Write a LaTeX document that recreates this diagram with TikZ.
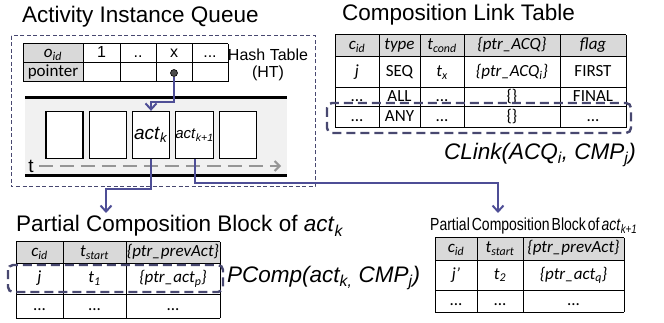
\documentclass[tikz,border=0pt]{standalone}
\usepackage{fontspec}
\usepackage{graphicx}
\setmainfont{Liberation Sans}
\newfontfamily\tabfont{Carlito}
\usetikzlibrary{arrows.meta,calc}
\definecolor{ptrcol}{RGB}{78,78,150}
\definecolor{dashcol}{RGB}{72,72,112}
\definecolor{hdrgray}{RGB}{217,217,217}
\definecolor{bandgray}{RGB}{241,241,241}
\definecolor{tgray}{RGB}{150,150,150}
\newcommand{\sbs}[1]{\textsubscript{#1}}
\begin{document}
\begin{tikzpicture}[x=1pt,y=-1pt,
  title/.style={font=\fontsize{22.5}{26}\selectfont, inner sep=0pt, anchor=west},
  cell/.style={font=\tabfont\fontsize{17}{20}\selectfont, inner sep=0pt, text height=11pt, text depth=3pt},
  hcell/.style={cell, font=\tabfont\itshape\fontsize{17}{20}\selectfont},
  gridline/.style={line width=1pt, draw=black},
  qbox/.style={draw=black, line width=1.3pt, fill=white, minimum width=37pt, minimum height=47pt, inner sep=0pt},
  ptr/.style={draw=ptrcol, line width=2pt, -{Straight Barb[length=6pt,width=11pt,line width=2pt]}},
  hl/.style={draw=dashcol, line width=2.4pt, dash pattern=on 9pt off 5pt, rounded corners=5pt},
  outer/.style={draw=dashcol, line width=1pt, dash pattern=on 4pt off 2.5pt},
  tarrow/.style={draw=tgray, line width=2.5pt, dash pattern=on 14pt off 7pt, -{Straight Barb[length=5pt,width=10pt,line width=2pt]}}
]
\useasboundingbox (0,0) rectangle (664,323);

% ---------- titles ----------
\node[title] (tAIQ) at (22,17) {Activity Instance Queue};
\node[title] (tCLT) at (342,15) {Composition Link Table};
\node[title] (tPCBa) at (16,226) {Partial Composition Block of \textit{act}\sbs{\textit{k}}};
\node[title, font=\fontsize{17.5}{20}\selectfont] (tPCBb) at (430,226) {\scalebox{0.8}[1]{\spaceskip=2.5pt Partial Composition Block of \textit{act}\sbs{\textit{k+1}}}};

% ---------- activity instance queue ----------
\draw[outer] (11,36) rectangle (315,187);

% hash table
\fill[hdrgray] (23,44) rectangle (83,82);
\foreach \y in {44,63,82} \draw[gridline] (23,\y) -- (228,\y);
\foreach \x in {23,83,120,156,192,228} \draw[gridline] (\x,44) -- (\x,82);
\node[hcell] (h00) at (53,53.5) {o\sbs{id}};
\node[cell, font=\fontsize{16}{18}\selectfont] (h01) at (101.5,53.5) {1};
\node[cell, font=\fontsize{16}{18}\selectfont] (h02) at (138,53.5) {..};
\node[cell, font=\fontsize{16}{18}\selectfont] (h03) at (174,53.5) {x};
\node[cell, font=\fontsize{16}{18}\selectfont] (h04) at (210,53.5) {...};
\node[cell] (h10) at (53,72.5) {pointer};
\node[font=\fontsize{16}{19}\selectfont, inner sep=0pt] (htl) at (268,55) {Hash Table};
\node[font=\fontsize{16}{19}\selectfont, inner sep=0pt] (htl2) at (268,73) {(HT)};

% queue band
\fill[bandgray] (25,98) rectangle (287,176);
\draw[line width=3pt] (25,98) -- (287,98);
\draw[line width=3pt] (25,176) -- (287,176);
\node[qbox] (b1) at (64.5,135) {};
\node[qbox] (b2) at (108,135) {};
\node[qbox] (b3) at (151,135) {\fontsize{19}{22}\selectfont\textit{act}\sbs{\textit{k}}};
\node[qbox] (b4) at (194.5,135) {\fontsize{15}{18}\selectfont\textit{act}\sbs{\textit{k+1}}};
\node[qbox] (b5) at (238,135) {};
\node[font=\fontsize{19}{22}\selectfont, inner sep=0pt] (tlab) at (31,166) {t};
\coordinate (tend) at (281,166);
\draw[tarrow] ($(tlab.east)+(5,0)$) -- (tend);

% pointer from hash table
\node[circle, fill=black!70, draw=black, line width=0.6pt, minimum size=7pt, inner sep=0pt] (dot) at (174,73) {};
\coordinate (bendA) at (174,102);
\draw[ptr] (dot) -- (bendA) -| (b3.north);

% connectors to partial composition blocks
\coordinate (bendB) at (106,189);
\coordinate (pcbA) at (106,213);
\draw[ptr] (b3.south) |- (bendB) -- (pcbA);
\coordinate (bendC) at (498,183);
\coordinate (pcbB) at (498,213);
\draw[ptr] (b4.south) |- (bendC) -- (pcbB);

% ---------- composition link table ----------
\fill[hdrgray] (335,35) rectangle (626,57);
\foreach \y in {35,57,88,107,128} \draw[gridline] (335,\y) -- (626,\y);
\foreach \x in {335,379,420,464,560,626} \draw[gridline] (\x,35) -- (\x,128);
\node[hcell] (c00) at (357,46) {c\sbs{id}};
\node[hcell] (c01) at (399.5,46) {type};
\node[hcell] (c02) at (442,46) {t\sbs{cond}};
\node[hcell] (c03) at (512,46) {\{ptr\_ACQ\}};
\node[hcell] (c04) at (593,46) {flag};
\node[hcell] (c10) at (357,72.5) {j};
\node[cell] (c11) at (399.5,72.5) {SEQ};
\node[hcell] (c12) at (442,72.5) {t\sbs{x}};
\node[hcell] (c13) at (512,72.5) {\{ptr\_ACQ\sbs{i}\}};
\node[cell] (c14) at (593,72.5) {FIRST};
\node[cell] (c20) at (357,97.5) {...};
\node[cell] (c21) at (399.5,97.5) {ALL};
\node[cell] (c22) at (442,97.5) {...};
\node[cell] (c23) at (512,97.5) {\{\}};
\node[cell] (c24) at (593,97.5) {FINAL};
\node[cell] (c30) at (357,117.5) {...};
\node[cell] (c31) at (399.5,117.5) {ANY};
\node[cell] (c32) at (442,117.5) {...};
\node[cell] (c33) at (512,117.5) {\{\}};
\node[cell] (c34) at (593,117.5) {...};
\draw[hl] (327,103) rectangle (631,133);
\node[font=\itshape\fontsize{22.5}{26}\selectfont, inner sep=0pt] (clink) at (540,155) {CLink(ACQ\sbs{i}, CMP\sbs{j})};

% ---------- partial composition block of act_k ----------
\fill[hdrgray] (16,242) rectangle (220,263);
\foreach \y in {242,263,294,318} \draw[gridline] (16,\y) -- (220,\y);
\foreach \x in {16,63,126,220} \draw[gridline] (\x,242) -- (\x,318);
\node[hcell] (p00) at (39.5,252.5) {c\sbs{id}};
\node[hcell] (p01) at (94.5,252.5) {t\sbs{start}};
\node[hcell] (p02) at (173,252.5) {\{ptr\_prevAct\}};
\node[hcell] (p10) at (39.5,278.5) {j};
\node[hcell] (p11) at (94.5,278.5) {t\sbs{1}};
\node[hcell] (p12) at (173,278.5) {\{ptr\_act\sbs{p}\}};
\node[cell] (p20) at (39.5,306) {...};
\node[cell] (p21) at (94.5,306) {...};
\node[cell] (p22) at (173,306) {...};
\draw[hl] (8,265) rectangle (223,292);
\node[title, font=\itshape\fontsize{22.5}{26}\selectfont] (pcomp) at (227,278) {PComp(act\sbs{k,} CMP\sbs{j})};

% ---------- partial composition block of act_k+1 ----------
\fill[hdrgray] (435,238) rectangle (624,260);
\foreach \y in {238,260,290,312} \draw[gridline] (435,\y) -- (624,\y);
\foreach \x in {435,477,523,624} \draw[gridline] (\x,238) -- (\x,312);
\node[hcell] (q00) at (456,249) {c\sbs{id}};
\node[hcell] (q01) at (500,249) {t\sbs{start}};
\node[hcell] (q02) at (573.5,249) {\{ptr\_prevAct\}};
\node[hcell] (q10) at (456,275) {j’};
\node[hcell] (q11) at (500,275) {t\sbs{2}};
\node[hcell] (q12) at (573.5,275) {\{ptr\_act\sbs{q}\}};
\node[cell] (q20) at (456,301) {...};
\node[cell] (q21) at (500,301) {...};
\node[cell] (q22) at (573.5,301) {...};
\end{tikzpicture}
\end{document}
